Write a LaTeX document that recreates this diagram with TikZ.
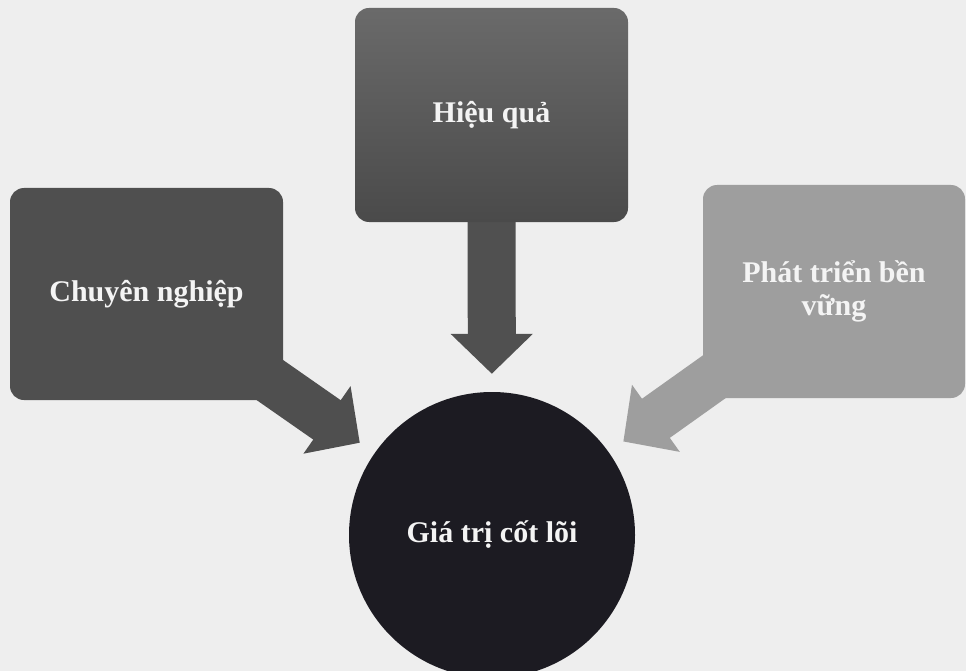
\documentclass[tikz,border=0pt]{standalone}
\usepackage{fontspec}
\setmainfont{Liberation Serif}
\usetikzlibrary{arrows.meta,backgrounds}
\definecolor{bgC}{HTML}{EEEEEE}
\definecolor{topA}{HTML}{6A6A6A}
\definecolor{topB}{HTML}{4A4A4A}
\definecolor{leftC}{HTML}{4F4F4F}
\definecolor{rightC}{HTML}{9E9E9E}
\definecolor{coreC}{HTML}{1C1B22}
\definecolor{txtC}{HTML}{F4F4F4}
\begin{document}
\begin{tikzpicture}[x=1pt,y=-1pt,
  box/.style={rounded corners=14pt, inner sep=0pt, text=txtC, align=center,
    font=\bfseries\fontsize{30}{33}\selectfont},
  flow/.style={line width=48pt, -{Triangle[length=40pt,width=80pt]}, shorten >=18pt}]
\clip (0,0) rectangle (966,671);
\node[circle, fill=coreC, minimum size=286pt, inner sep=0pt, text=txtC,
  font=\bfseries\fontsize{30}{33}\selectfont] (core) at (492,535) {Giá trị cốt lõi};
\node[box, top color=topA, bottom color=topB, minimum width=273pt, minimum height=214pt] (top) at (491.5,115) {Hiệu quả};
\node[box, fill=leftC, minimum width=273pt, minimum height=212pt] (left) at (146.5,294) {Chuyên nghiệp};
\node[box, fill=rightC, minimum width=262pt, minimum height=213pt] (right) at (834,291.5) {Phát triển bền\\vững};
\begin{scope}[on background layer]
  \fill[bgC] (0,0) rectangle (966,671);
  \draw[flow, draw=topB!80!topA] (top.center) -- (core);
  \draw[flow, draw=leftC] (left.center) -- (core);
  \draw[flow, draw=rightC] (right.center) -- (core);
\end{scope}
\end{tikzpicture}
\end{document}
